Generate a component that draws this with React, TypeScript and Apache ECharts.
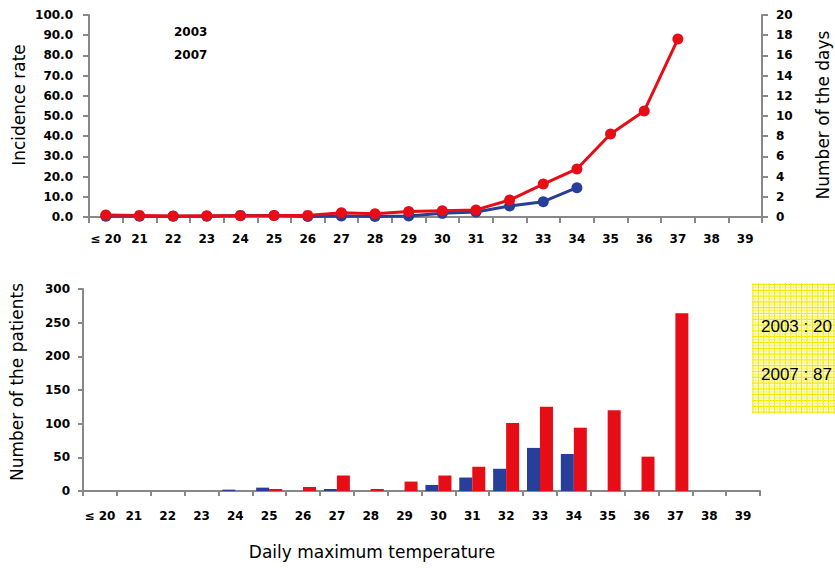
import { useEffect, useRef } from "react";
import * as echarts from "echarts";

// Daily maximum temperature classes (°C)
const categories = [
  "≤ 20", "21", "22", "23", "24", "25", "26", "27", "28", "29",
  "30", "31", "32", "33", "34", "35", "36", "37", "38", "39",
];

// Incidence rate by temperature class
const incidence2003 = [
  0.4, 0.4, 0.4, 0.4, 0.8, 0.7, 0.2, 0.5, 0.3, 0.5,
  1.8, 2.5, 5.4, 7.6, 14.5, null, null, null, null, null,
];
const incidence2007 = [
  1.0, 0.8, 0.5, 0.6, 0.6, 0.7, 0.8, 2.1, 1.6, 2.7,
  3.1, 3.5, 8.4, 16.3, 23.8, 41.1, 52.5, 88.1, null, null,
];

// Number of patients by temperature class
const patients2003 = [
  0, 0, 0, 0, 2, 5, 0, 3, 0, 0,
  9, 20, 33, 64, 55, 0, 0, 0, 0, 0,
];
const patients2007 = [
  0, 0, 0, 0, 0, 3, 6, 23, 3, 14,
  23, 36, 101, 125, 94, 120, 51, 264, 0, 0,
];

// Totals box lines
const totalsText = ["2003 : 20", "2007 : 87"];

const BLUE = "#283f99";
const RED = "#e60d16";
const AXIS = "#888888";
const FONT = "DejaVu Sans";

const tickLabel = {
  color: "#000",
  fontFamily: FONT,
  fontWeight: "bold" as const,
  fontSize: 12,
};

const axisLine = { show: true, lineStyle: { color: AXIS, width: 2 } };
const axisTick = (length: number) => ({
  show: true,
  length,
  lineStyle: { color: AXIS, width: 2 },
});

// Yellow hatched note box
function noteBox() {
  const x0 = 752;
  const y0 = 283;
  const w = 90;
  const h = 131;
  const children: any[] = [
    { type: "rect", shape: { x: x0, y: y0, width: w, height: h }, style: { fill: "#fff" } },
  ];
  let i = 0;
  for (let x = x0 + 1; x < x0 + w; x += 2.7, i++) {
    children.push({
      type: "line",
      shape: { x1: x, y1: y0, x2: x, y2: y0 + h },
      style: { stroke: "#f4ec00", lineWidth: 1.2, opacity: i % 2 ? 0.4 : 1 },
    });
  }
  i = 0;
  for (let y = y0 + 1.5; y < y0 + h; y += 2.9, i++) {
    children.push({
      type: "line",
      shape: { x1: x0, y1: y, x2: x0 + w, y2: y },
      style: { stroke: "#f4ec00", lineWidth: 1.2, opacity: i % 2 ? 0.4 : 1 },
    });
  }
  const textFont = "17px 'Liberation Sans', Arial, sans-serif";
  children.push(
    {
      type: "text",
      x: 761,
      y: 326,
      style: { text: totalsText[0], fill: "#000", font: textFont, textVerticalAlign: "middle" },
    },
    {
      type: "text",
      x: 761,
      y: 374,
      style: { text: totalsText[1], fill: "#000", font: textFont, textVerticalAlign: "middle" },
    }
  );
  return { type: "group", children };
}

const titleStyle = (text: string) => ({
  text,
  fill: "#000",
  font: `17px '${FONT}', sans-serif`,
  textAlign: "center",
  textVerticalAlign: "middle",
});

const option: any = {
  animation: false,
  backgroundColor: "#fff",
  legend: {
    data: ["2003", "2007"],
    orient: "vertical",
    left: 168,
    top: 26,
    padding: 0,
    itemWidth: 0,
    itemHeight: 0,
    itemGap: 11,
    selectedMode: false,
    textStyle: { ...tickLabel },
  },
  grid: [
    { left: 89, top: 15, width: 673, height: 202 },
    { left: 83, top: 289, width: 677, height: 202 },
  ],
  xAxis: [
    {
      type: "category",
      gridIndex: 0,
      data: categories,
      boundaryGap: true,
      axisLine,
      axisTick: axisTick(6),
      axisLabel: { ...tickLabel, interval: 0, margin: 16 },
      splitLine: { show: false },
    },
    {
      type: "category",
      gridIndex: 1,
      data: categories,
      boundaryGap: true,
      axisLine,
      axisTick: axisTick(5),
      axisLabel: { ...tickLabel, interval: 0, margin: 19 },
      splitLine: { show: false },
    },
  ],
  yAxis: [
    {
      type: "value",
      gridIndex: 0,
      min: 0,
      max: 100,
      interval: 10,
      axisLine,
      axisTick: axisTick(6),
      axisLabel: { ...tickLabel, margin: 16, formatter: (v: number) => v.toFixed(1) },
      splitLine: { show: false },
    },
    {
      type: "value",
      gridIndex: 0,
      position: "right",
      min: 0,
      max: 20,
      interval: 2,
      axisLine,
      axisTick: axisTick(6),
      axisLabel: { ...tickLabel, margin: 14 },
      splitLine: { show: false },
    },
    {
      type: "value",
      gridIndex: 1,
      min: 0,
      max: 300,
      interval: 50,
      axisLine,
      axisTick: axisTick(5),
      axisLabel: { ...tickLabel, margin: 13 },
      splitLine: { show: false },
    },
  ],
  series: [
    {
      name: "2003",
      type: "line",
      xAxisIndex: 0,
      yAxisIndex: 0,
      data: incidence2003,
      color: BLUE,
      symbol: "circle",
      symbolSize: 11,
      lineStyle: { width: 3, color: BLUE },
      itemStyle: { color: BLUE },
    },
    {
      name: "2007",
      type: "line",
      xAxisIndex: 0,
      yAxisIndex: 0,
      data: incidence2007,
      color: RED,
      symbol: "circle",
      symbolSize: 11,
      lineStyle: { width: 3, color: RED },
      itemStyle: { color: RED },
    },
    {
      name: "2003",
      type: "bar",
      xAxisIndex: 1,
      yAxisIndex: 2,
      data: patients2003,
      barWidth: 13,
      barGap: "0%",
      itemStyle: { color: BLUE },
    },
    {
      name: "2007",
      type: "bar",
      xAxisIndex: 1,
      yAxisIndex: 2,
      data: patients2007,
      barWidth: 13,
      barGap: "0%",
      itemStyle: { color: RED },
    },
  ],
  graphic: [
    { type: "text", x: 19, y: 105, rotation: Math.PI / 2, style: titleStyle("Incidence rate") },
    { type: "text", x: 823, y: 115, rotation: Math.PI / 2, style: titleStyle("Number of the days") },
    { type: "text", x: 17, y: 382, rotation: Math.PI / 2, style: titleStyle("Number of the patients") },
    { type: "text", x: 372, y: 552, style: titleStyle("Daily maximum temperature") },
    noteBox(),
  ],
};

export default function App() {
  const ref = useRef<HTMLDivElement>(null);

  useEffect(() => {
    if (!ref.current) return;
    const chart = echarts.init(ref.current, null, { renderer: "svg" });
    chart.setOption(option);
    return () => chart.dispose();
  }, []);

  return (
    <div
      ref={ref}
      style={{ position: "absolute", left: 0, top: 0, width: 835, height: 568, overflow: "hidden" }}
    />
  );
}
